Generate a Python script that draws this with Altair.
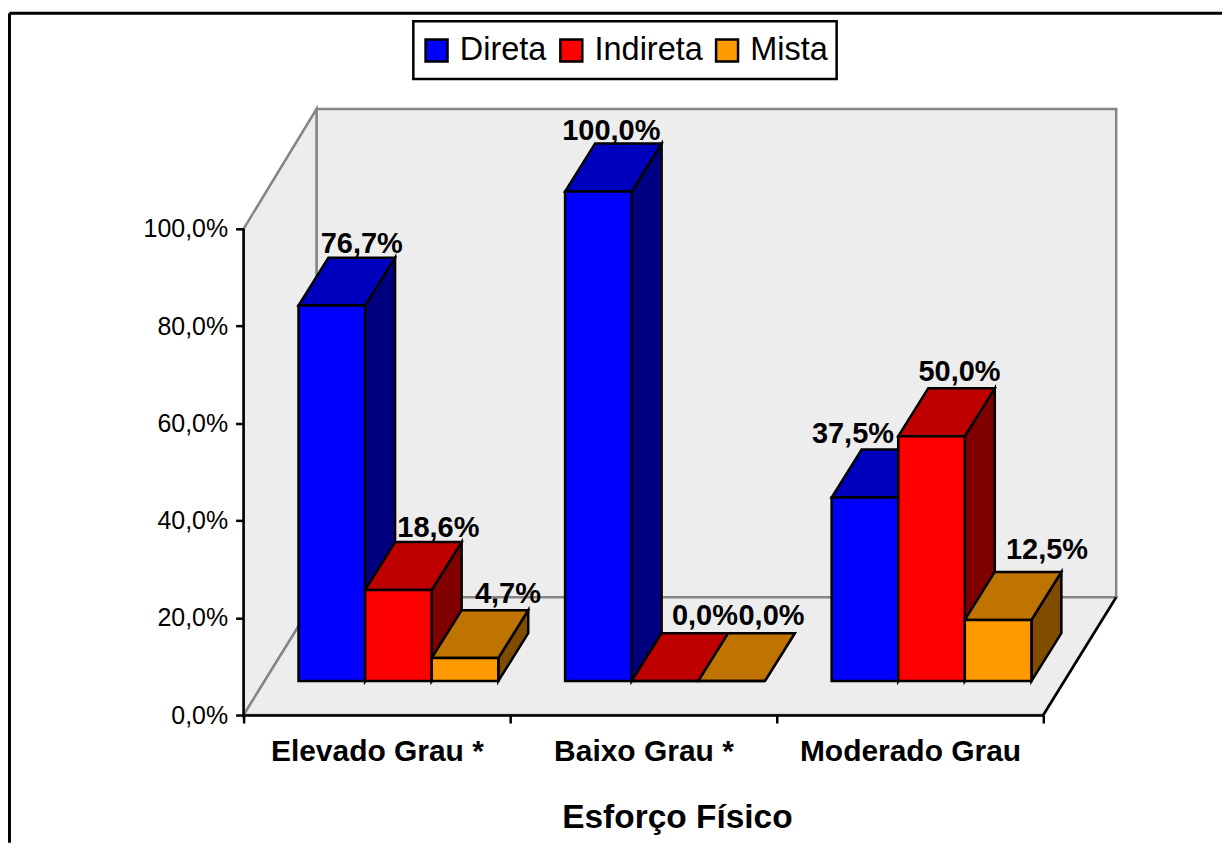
import altair as alt
import pandas as pd

# --- values ---
categories = ["Elevado Grau *", "Baixo Grau *", "Moderado Grau"]
series = ["Direta", "Indireta", "Mista"]
direta = [76.7, 100.0, 37.5]
indireta = [18.6, 0.0, 50.0]
mista = [4.7, 0.0, 12.5]
y_ticks = [0, 20, 40, 60, 80, 100]

# --- styles ---
front_colors = ["#0000FF", "#FF0000", "#FF9900"]
top_colors = ["#0000BF", "#BF0000", "#BF7300"]
side_colors = ["#000080", "#800000", "#804D00"]
FONT = "Liberation Sans"
WALL = "#EDEDED"
GREY = "#868686"
LW = 2.5

# --- projection constants (category units on x, percent units on y) ---
PX_CAT = 267.0
PX_PCT = 4.87
W, H = 874, 607
X_MAX = W / PX_CAT
Y_MAX = H / PX_PCT
N = len(categories)
FLOOR_DX = 73 / PX_CAT
FLOOR_DY = 118 / PX_PCT
WALL_H = 489 / PX_PCT
BAR_DX = 30 / PX_CAT
BAR_DY = 48 / PX_PCT
BASE = 34 / PX_PCT
GAP = 55 / PX_CAT
BAR_W = 66.7 / PX_CAT
H_FACTOR = 1.007
# label nudges in px, per series and category: sideways, and above the back-top edge
nudge_x = [[0, -17, -42], [10, 10, -2], [13, 10, 19]]
nudge_y = [[5, 4, 7], [5, 8, 7], [7, 8, 13]]

values = [direta, indireta, mista]
fronts, tops, sides, labels = [], [], [], []
for s, name in enumerate(series):
    for c, cat in enumerate(categories):
        v = values[s][c]
        bar = f"{s}-{c}"
        x0 = c + GAP + s * BAR_W
        x1 = x0 + BAR_W
        top = BASE + v * H_FACTOR
        fronts.append(dict(series=name, x0=x0, x1=x1, y0=BASE, y1=top))
        tops += [
            dict(series=name, bar=bar, y=top, a=x0, b=x1),
            dict(series=name, bar=bar, y=top + BAR_DY, a=x0 + BAR_DX, b=x1 + BAR_DX),
        ]
        sides += [
            dict(series=name, bar=bar, x=x1, a=BASE, b=top),
            dict(series=name, bar=bar, x=x1 + BAR_DX, a=BASE + BAR_DY, b=top + BAR_DY),
        ]
        labels.append(dict(
            x=x0 + BAR_DX + BAR_W / 2 + nudge_x[s][c] / PX_CAT,
            y=top + BAR_DY + nudge_y[s][c] / PX_PCT,
            text=f"{v:.1f}".replace(".", ",") + "%",
        ))
fronts, tops, sides, labels = map(pd.DataFrame, (fronts, tops, sides, labels))

x_scale = alt.Scale(domain=[0, X_MAX], range=[0, W], nice=False, zero=False)
y_scale = alt.Scale(domain=[0, Y_MAX], range=[H, 0], nice=False, zero=False)

y_axis = alt.Axis(
    values=y_ticks, domain=False, grid=False, tickSize=8, tickWidth=LW, tickColor="black",
    labelFont=FONT, labelFontSize=25, labelColor="black", labelPadding=8,
    labelExpr="replace(format(datum.value, '.1f'), '.', ',') + '%'", zindex=1, title=None,
)


def X(f):
    return alt.X(f"{f}:Q", scale=x_scale, axis=None)


def Y(f):
    return alt.Y(f"{f}:Q", scale=y_scale, axis=y_axis)


# walls and floor
back = pd.DataFrame(dict(x0=[FLOOR_DX], x1=[N + FLOOR_DX], y0=[FLOOR_DY], y1=[FLOOR_DY + WALL_H]))
back_l = alt.Chart(back).mark_rect(fill=WALL, stroke=GREY, strokeWidth=LW).encode(
    x=X("x0"), x2="x1", y=Y("y0"), y2="y1")
left = pd.DataFrame(dict(x=[0, FLOOR_DX], a=[0, FLOOR_DY], b=[100, FLOOR_DY + WALL_H]))
left_l = alt.Chart(left).mark_area(fill=WALL, stroke=GREY, strokeWidth=LW).encode(
    x=X("x"), y=Y("a"), y2="b")
floor = pd.DataFrame(dict(y=[0, FLOOR_DY], a=[0, FLOOR_DX], b=[N, N + FLOOR_DX]))
floor_l = alt.Chart(floor).mark_area(
    orient="horizontal", fill=WALL, stroke=GREY, strokeWidth=LW
).encode(y=Y("y"), x=X("a"), x2="b")
edge = pd.DataFrame(dict(x=[N, N + FLOOR_DX], y=[0, FLOOR_DY]))
edge_l = alt.Chart(edge).mark_line(color="black", strokeWidth=LW).encode(x=X("x"), y=Y("y"))
y_line = pd.DataFrame(dict(x=[0], a=[0], b=[100]))
y_line_l = alt.Chart(y_line).mark_rule(color="black", strokeWidth=LW).encode(
    x=X("x"), y=Y("a"), y2="b")

# bars, painted series by series
bars = []
for s, name in enumerate(series):
    bars.append(
        alt.Chart(sides[sides.series == name]).mark_area(
            fill=side_colors[s], stroke="black", strokeWidth=LW, opacity=1
        ).encode(x=X("x"), y=Y("a"), y2="b", detail="bar:N")
    )
    bars.append(
        alt.Chart(tops[tops.series == name]).mark_area(
            orient="horizontal", fill=top_colors[s], stroke="black", strokeWidth=LW, opacity=1
        ).encode(y=Y("y"), x=X("a"), x2="b", detail="bar:N")
    )
    bars.append(
        alt.Chart(fronts[fronts.series == name]).mark_rect(
            stroke="black", strokeWidth=LW, opacity=1
        ).encode(
            x=X("x0"), x2="x1", y=Y("y0"), y2="y1",
            color=alt.Color(
                "series:N",
                scale=alt.Scale(domain=series, range=front_colors),
                legend=alt.Legend(
                    title=None, orient="none", legendX=177, legendY=-75, direction="horizontal",
                    columns=3, symbolType="square", symbolSize=484, symbolStrokeColor="black",
                    symbolStrokeWidth=2.5, symbolOpacity=1, labelFont=FONT, labelFontSize=32.5,
                    labelColor="black", labelOffset=7, columnPadding=8, padding=0, labelLimit=0,
                ),
            ),
        )
    )

text_l = alt.Chart(labels).mark_text(
    font=FONT, fontSize=29, fontWeight="bold", color="black", align="center", baseline="alphabetic"
).encode(x=X("x"), y=Y("y"), text="text:N")

# outer frame: only its top and left sides fall inside the picture
one = pd.DataFrame(dict(k=[0]))
frame_top = alt.Chart(one).mark_rule(color="black", strokeWidth=3).encode(
    x=alt.value(-234.5), x2=alt.value(980), y=alt.value(-96))
frame_left = alt.Chart(one).mark_rule(color="black", strokeWidth=3).encode(
    x=alt.value(-234.5), y=alt.value(-96), y2=alt.value(735))
# box around the legend
legend_box = alt.Chart(one).mark_rect(fill="white", stroke="black", strokeWidth=LW).encode(
    x=alt.value(170), x2=alt.value(594), y=alt.value(-88), y2=alt.value(-30))

inner = alt.layer(
    frame_top, frame_left, legend_box, back_l, left_l, floor_l, edge_l, y_line_l, *bars, text_l
)

x_axis = alt.Axis(
    tickBand="extent", tickSize=8, tickWidth=LW, tickColor="black", domainColor="black",
    domainWidth=LW, labelAngle=0, labelFont=FONT, labelFontSize=30, labelFontWeight="bold",
    labelColor="black", labelPadding=14, labelLimit=0, labelOverlap=False, grid=False,
    title="Esforço Físico", titleFont=FONT, titleFontSize=33.5, titleFontWeight="bold",
    titleColor="black", titleX=434, titleY=113, titleBaseline="alphabetic", titleAnchor="middle",
    titleAlign="center", zindex=1,
)
axis_l = alt.Chart(pd.DataFrame(dict(cat=categories, k=[0, 0, 0]))).mark_rule(opacity=0).encode(
    x=alt.X("cat:N", sort=categories, axis=x_axis,
            scale=alt.Scale(domain=categories, range=[0, N * PX_CAT], paddingInner=0, paddingOuter=0)),
    y=Y("k"),
)

chart = alt.layer(inner, axis_l).resolve_scale(x="independent").properties(
    width=W, height=H,
    padding={"left": 0, "top": 2.5, "right": 0, "bottom": 0},
    background="white",
).configure_view(stroke=None)

chart.save("out.html", embed_options={"renderer": "svg", "actions": False})
